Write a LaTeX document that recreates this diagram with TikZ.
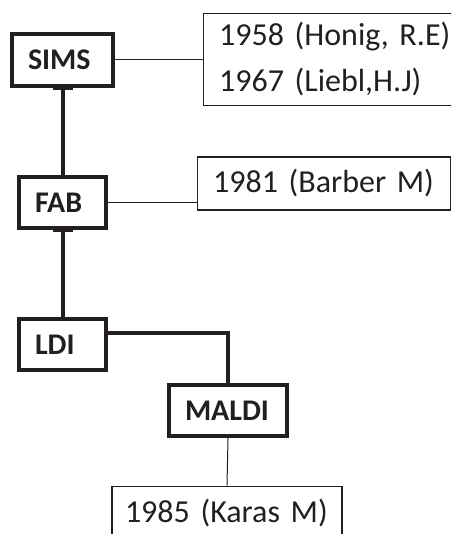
\documentclass[tikz,border=0pt]{standalone}
\usepackage{fontspec}
\setmainfont{Carlito}[WordSpace=0.75]
\usetikzlibrary{positioning, calc}
\definecolor{inkgray}{rgb}{0.137,0.122,0.125}

\begin{document}
\begin{tikzpicture}[
        x=1pt, y=-1pt,
        method/.style={draw=inkgray, line width=4pt, minimum height=51pt, inner xsep=16pt, inner ysep=0pt, align=left, font=\fontsize{30}{36}\selectfont\bfseries, text=inkgray},
        ref/.style={draw=inkgray, line width=1.3pt, minimum height=53pt, inner xsep=16pt, align=left, anchor=west, font=\fontsize{32}{46}\selectfont, text=inkgray},
        link/.style={draw=inkgray, line width=4pt},
        tie/.style={draw=inkgray, line width=1pt}
    ]
        \useasboundingbox (0,0) rectangle (451,534);
        \clip (0,0) rectangle (451,534);

        % Techniques (left column)
        \node[method, text width=69pt, minimum height=52pt] (sims) at (62.5,60) {SIMS};
        \node[method, text width=55pt] (fab) at (62.5,202.5) {FAB};
        \node[method, text width=55pt] (ldi) at (62.5,344.5) {LDI};
        \node[method, text width=86pt] (maldi) at (228,410.5) {MALDI};

        % References
        \node[ref, text width=250pt, minimum height=92pt] (r1958) at (202.5,59.5) {1958 (Honig, R.E)\\1967 (Liebl,H.J)};
        \node[ref, text width=221pt] (r1981) at (196.5,183.5) {1981 (Barber M)};
        \node[ref, anchor=north, inner xsep=13pt, text width=204pt] (r1985) at (227,485.5) {\mbox{1985 (Karas M)}};

        % Thin ties to references
        \draw[tie] (sims.east) -- (sims.east -| r1958.west);
        \draw[tie] (fab.east) -- (fab.east -| r1981.west);
        \draw[tie] (maldi.south) -- (r1985.north);

        % Thick links between techniques
        \draw[link] (sims.south) -- (fab.north);
        \draw[link] (fab.south) -- (ldi.north);
        \draw[link] ([yshift=11.5pt]ldi.east) -| (maldi.north);

        % Connector handles
        \fill[inkgray] ([xshift=-10pt, yshift=4pt]sims.south) rectangle ([xshift=10pt, yshift=-2pt]sims.south);
        \fill[inkgray] ([xshift=-10pt, yshift=4pt]fab.south) rectangle ([xshift=10pt, yshift=-2pt]fab.south);
    \end{tikzpicture}
\end{document}
